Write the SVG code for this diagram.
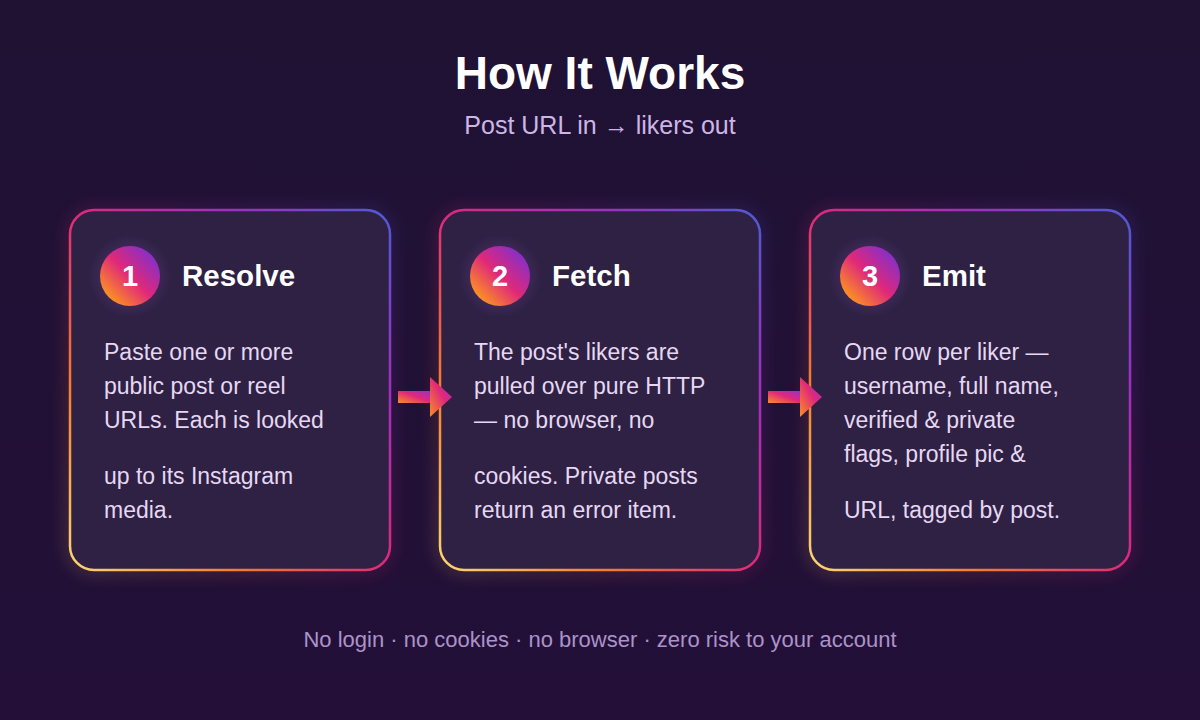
<svg xmlns="http://www.w3.org/2000/svg" width="1200" height="720" viewBox="0 0 1200 720">
<defs>
<linearGradient id="bg" x1="0" y1="0" x2="0" y2="1">
<stop offset="0" stop-color="#1f1233"/>
<stop offset="1" stop-color="#230f38"/>
</linearGradient>
<linearGradient id="border" x1="0" y1="1" x2="1" y2="0">
<stop offset="0" stop-color="#fcd773"/>
<stop offset="0.25" stop-color="#f77f2e"/>
<stop offset="0.5" stop-color="#dd2a7b"/>
<stop offset="0.75" stop-color="#a02fbf"/>
<stop offset="1" stop-color="#4f5bd5"/>
</linearGradient>
<linearGradient id="badge" x1="0.15" y1="0.85" x2="0.85" y2="0.15">
<stop offset="0" stop-color="#fb8f24"/>
<stop offset="0.5" stop-color="#e0287a"/>
<stop offset="1" stop-color="#8a2fc4"/>
</linearGradient>
<linearGradient id="arrowg" x1="0" y1="1" x2="1" y2="0">
<stop offset="0" stop-color="#fb8f24"/>
<stop offset="0.55" stop-color="#e0287a"/>
<stop offset="1" stop-color="#9a30c8"/>
</linearGradient>
<radialGradient id="glow" cx="0.5" cy="0.5" r="0.5">
<stop offset="0.55" stop-color="#6a3c8a" stop-opacity="0.35"/>
<stop offset="1" stop-color="#6a3c8a" stop-opacity="0"/>
</radialGradient>
<filter id="shadow" x="-20%" y="-20%" width="140%" height="140%">
<feGaussianBlur stdDeviation="8"/>
</filter>
<g id="arrow">
<rect x="0" y="-6" width="32" height="12" fill="url(#arrowg)"/>
<polygon points="32,-20 54,0 32,20" fill="url(#arrowg)"/>
</g>
</defs>
<style>
.card{fill:#2e2144;stroke:url(#border);stroke-width:2.5}
.glowcard{fill:none;stroke:url(#border);stroke-width:6;opacity:0.3}
.num{font-family:"Liberation Sans",Arial,sans-serif;font-weight:bold;font-size:29px;fill:#ffffff;text-anchor:middle}
.ttl{font-family:"Liberation Sans",Arial,sans-serif;font-weight:bold;font-size:29.5px;fill:#ffffff}
.body{font-family:"Liberation Sans",Arial,sans-serif;font-size:23px;fill:#e6d8f2}
.h1{font-family:"Liberation Sans",Arial,sans-serif;font-weight:bold;font-size:46px;fill:#ffffff;text-anchor:middle}
.sub{font-family:"Liberation Sans",Arial,sans-serif;font-size:25px;fill:#cdb6e6;text-anchor:middle}
.foot{font-family:"Liberation Sans",Arial,sans-serif;font-size:22px;fill:#ab93c8;text-anchor:middle}
</style>
<rect width="1200" height="720" fill="url(#bg)"/>
<text class="h1" x="600" y="89">How It Works</text>
<text class="sub" x="600" y="134">Post URL in → likers out</text>

<g id="step1">
<rect class="glowcard" x="70" y="210" width="320" height="360" rx="24" filter="url(#shadow)"/>
<rect class="card" x="70" y="210" width="320" height="360" rx="24"/>
<circle cx="130" cy="276" r="42" fill="url(#glow)"/>
<circle cx="130" cy="276" r="30" fill="url(#badge)"/>
<text class="num" x="130" y="286">1</text>
<text class="ttl" x="182" y="286">Resolve</text>
<text class="body" x="104" y="360">Paste one or more</text>
<text class="body" x="104" y="394">public post or reel</text>
<text class="body" x="104" y="428">URLs. Each is looked</text>
<text class="body" x="104" y="484">up to its Instagram</text>
<text class="body" x="104" y="518">media.</text>
</g>

<g id="step2">
<rect class="glowcard" x="440" y="210" width="320" height="360" rx="24" filter="url(#shadow)"/>
<rect class="card" x="440" y="210" width="320" height="360" rx="24"/>
<circle cx="500" cy="276" r="42" fill="url(#glow)"/>
<circle cx="500" cy="276" r="30" fill="url(#badge)"/>
<text class="num" x="500" y="286">2</text>
<text class="ttl" x="552" y="286">Fetch</text>
<text class="body" x="474" y="360">The post's likers are</text>
<text class="body" x="474" y="394">pulled over pure HTTP</text>
<text class="body" x="474" y="428">— no browser, no</text>
<text class="body" x="474" y="484">cookies. Private posts</text>
<text class="body" x="474" y="518">return an error item.</text>
</g>

<g id="step3">
<rect class="glowcard" x="810" y="210" width="320" height="360" rx="24" filter="url(#shadow)"/>
<rect class="card" x="810" y="210" width="320" height="360" rx="24"/>
<circle cx="870" cy="276" r="42" fill="url(#glow)"/>
<circle cx="870" cy="276" r="30" fill="url(#badge)"/>
<text class="num" x="870" y="286">3</text>
<text class="ttl" x="922" y="286">Emit</text>
<text class="body" x="844" y="360">One row per liker —</text>
<text class="body" x="844" y="394">username, full name,</text>
<text class="body" x="844" y="428">verified &amp; private</text>
<text class="body" x="844" y="462">flags, profile pic &amp;</text>
<text class="body" x="844" y="518">URL, tagged by post.</text>
</g>

<g id="connectors">
<use href="#arrow" x="398" y="397"/>
<use href="#arrow" x="768" y="397"/>
</g>

<text class="foot" x="600" y="647">No login · no cookies · no browser · zero risk to your account</text>
</svg>
